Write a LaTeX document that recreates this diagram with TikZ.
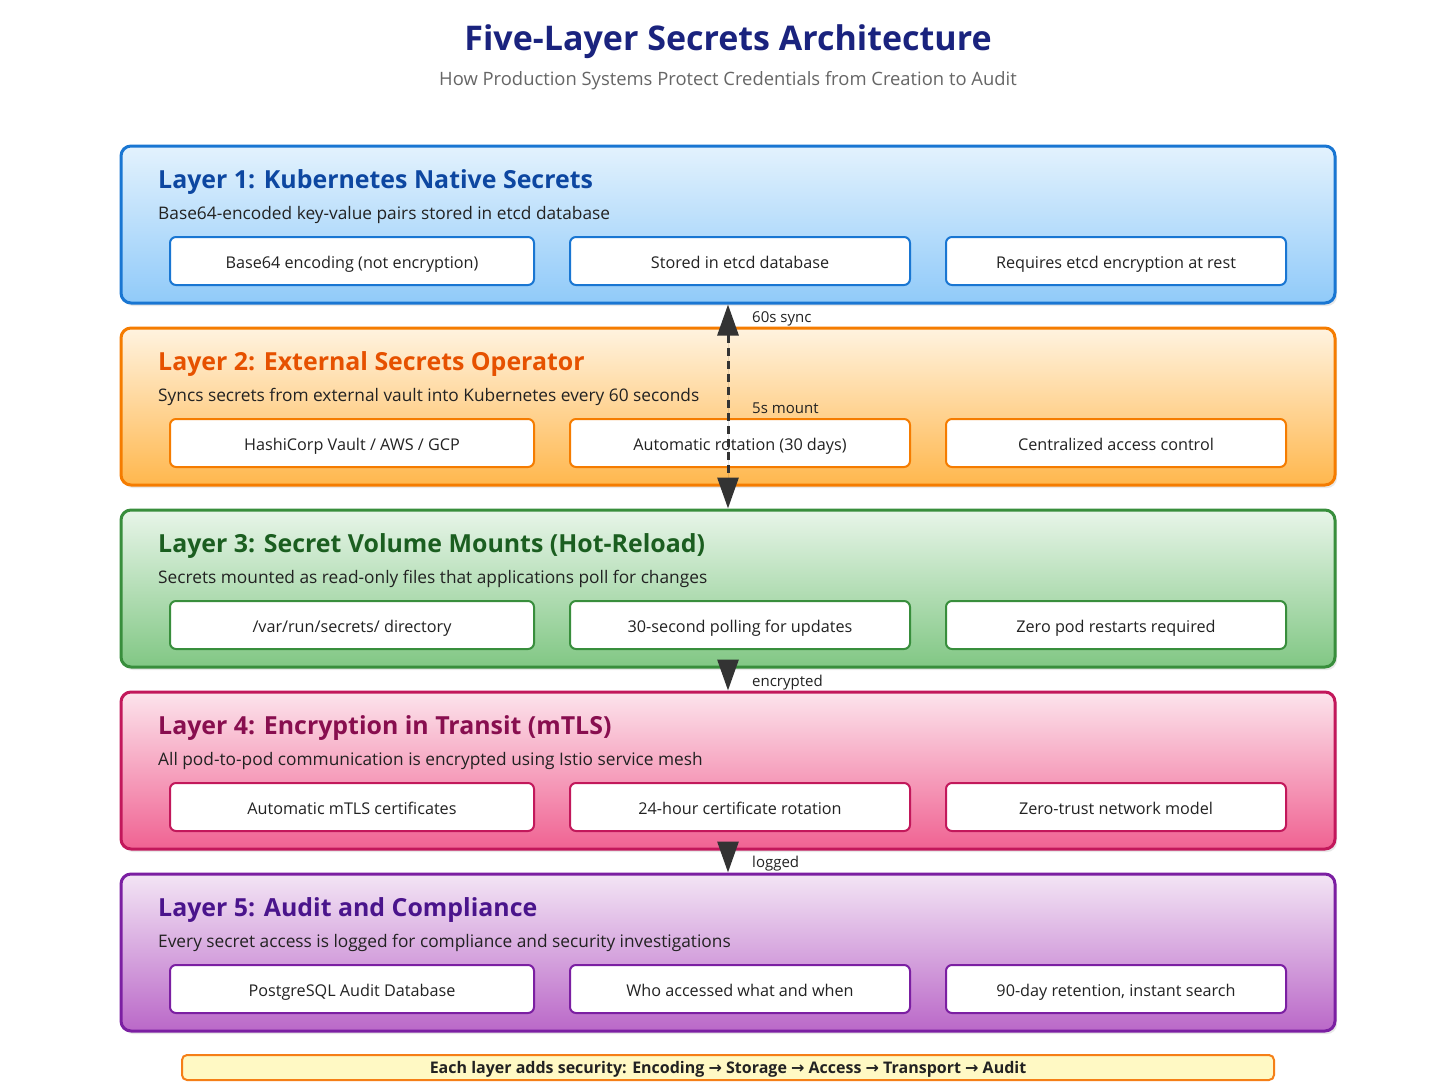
\documentclass[tikz,border=0pt]{standalone}
\usepackage{fontspec}
\setmainfont{Open Sans}
\newfontfamily\arrowfont{DejaVu Sans}
\usetikzlibrary{arrows.meta, shadows}

\definecolor{titleblue}{HTML}{1A237E}
\definecolor{subgray}{HTML}{666666}
\definecolor{textgray}{HTML}{222222}
\definecolor{arrowgray}{HTML}{333333}
% layer colours
\definecolor{blueA}{HTML}{E3F2FD}\definecolor{blueB}{HTML}{90CAF9}\definecolor{blueL}{HTML}{1976D2}\definecolor{blueT}{HTML}{0D47A1}
\definecolor{orangeA}{HTML}{FFF3E0}\definecolor{orangeB}{HTML}{FFB74D}\definecolor{orangeL}{HTML}{F57C00}\definecolor{orangeT}{HTML}{E65100}
\definecolor{greenA}{HTML}{E8F5E9}\definecolor{greenB}{HTML}{81C784}\definecolor{greenL}{HTML}{388E3C}\definecolor{greenT}{HTML}{1B5E20}
\definecolor{pinkA}{HTML}{FCE4EC}\definecolor{pinkB}{HTML}{F06292}\definecolor{pinkL}{HTML}{C2185B}\definecolor{pinkT}{HTML}{880E4F}
\definecolor{purpleA}{HTML}{F3E5F5}\definecolor{purpleB}{HTML}{BA68C8}\definecolor{purpleL}{HTML}{7B1FA2}\definecolor{purpleT}{HTML}{4A148C}
\definecolor{noteA}{HTML}{FFF9C4}\definecolor{noteL}{HTML}{F57F17}

\begin{document}
\begin{tikzpicture}[x=1pt, y=-1pt,
  layerbox/.style={rounded corners=10pt, line width=3pt, minimum width=1214pt, minimum height=157pt, drop shadow={opacity=0.18, shadow xshift=2pt, shadow yshift=-3pt}},
  itembox/.style={rounded corners=6pt, line width=2pt, fill=white, minimum height=48pt, text height=14pt, text depth=0pt, text=textgray, font=\fontsize{16.2}{19}\selectfont},
  layertitle/.style={anchor=base west, inner sep=0pt, font=\fontsize{24.9}{29}\selectfont\bfseries},
  layertext/.style={anchor=base west, inner sep=0pt, text=textgray, font=\fontsize{17.3}{20}\selectfont},
  flowarrow/.style={line width=3pt, draw=arrowgray, fill=arrowgray},
  flowlabel/.style={anchor=base west, inner sep=0pt, text=textgray, font=\fontsize{15}{18}\selectfont}]

\useasboundingbox[fill=white] (0,0) rectangle (1456,1092);

\node[anchor=base, inner sep=0pt, text=titleblue, font=\fontsize{34}{40}\selectfont\bfseries] (title) at (728, 50) {Five-Layer Secrets Architecture};
\node[anchor=base, inner sep=0pt, text=subgray, font=\fontsize{18.4}{22}\selectfont] (subtitle) at (728, 85) {How Production Systems Protect Credentials from Creation to Audit};

%layer 1
\node[layerbox, draw=blueL, top color=blueA, bottom color=blueB] (l1) at (728, 224.5) {};
\node[layertitle, text=blueT] (l1title) at (158, 188) {Layer 1: Kubernetes Native Secrets};
\node[layertext] (l1text) at (158, 219) {Base64-encoded key-value pairs stored in etcd database};
\node[itembox, draw=blueL, minimum width=364pt] (l1a) at (352, 261) {Base64 encoding (not encryption)};
\node[itembox, draw=blueL, minimum width=340pt] (l1b) at (740, 261) {Stored in etcd database};
\node[itembox, draw=blueL, minimum width=340pt] (l1c) at (1116, 261) {Requires etcd encryption at rest};

%layer 2
\node[layerbox, draw=orangeL, top color=orangeA, bottom color=orangeB] (l2) at (728, 406.5) {};
\node[layertitle, text=orangeT] (l2title) at (158, 370) {Layer 2: External Secrets Operator};
\node[layertext] (l2text) at (158, 401) {Syncs secrets from external vault into Kubernetes every 60 seconds};
\node[itembox, draw=orangeL, minimum width=364pt] (l2a) at (352, 443) {HashiCorp Vault / AWS / GCP};
\node[itembox, draw=orangeL, minimum width=340pt] (l2b) at (740, 443) {Automatic rotation (30 days)};
\node[itembox, draw=orangeL, minimum width=340pt] (l2c) at (1116, 443) {Centralized access control};

%layer 3
\node[layerbox, draw=greenL, top color=greenA, bottom color=greenB] (l3) at (728, 588.5) {};
\node[layertitle, text=greenT] (l3title) at (158, 552) {Layer 3: Secret Volume Mounts (Hot-Reload)};
\node[layertext] (l3text) at (158, 583) {Secrets mounted as read-only files that applications poll for changes};
\node[itembox, draw=greenL, minimum width=364pt] (l3a) at (352, 625) {/var/run/secrets/ directory};
\node[itembox, draw=greenL, minimum width=340pt] (l3b) at (740, 625) {30-second polling for updates};
\node[itembox, draw=greenL, minimum width=340pt] (l3c) at (1116, 625) {Zero pod restarts required};

%layer 4
\node[layerbox, draw=pinkL, top color=pinkA, bottom color=pinkB] (l4) at (728, 770.5) {};
\node[layertitle, text=pinkT] (l4title) at (158, 734) {Layer 4: Encryption in Transit (mTLS)};
\node[layertext] (l4text) at (158, 765) {All pod-to-pod communication is encrypted using Istio service mesh};
\node[itembox, draw=pinkL, minimum width=364pt] (l4a) at (352, 807) {Automatic mTLS certificates};
\node[itembox, draw=pinkL, minimum width=340pt] (l4b) at (740, 807) {24-hour certificate rotation};
\node[itembox, draw=pinkL, minimum width=340pt] (l4c) at (1116, 807) {Zero-trust network model};

%layer 5
\node[layerbox, draw=purpleL, top color=purpleA, bottom color=purpleB] (l5) at (728, 952.5) {};
\node[layertitle, text=purpleT] (l5title) at (158, 916) {Layer 5: Audit and Compliance};
\node[layertext] (l5text) at (158, 947) {Every secret access is logged for compliance and security investigations};
\node[itembox, draw=purpleL, minimum width=364pt] (l5a) at (352, 989) {PostgreSQL Audit Database};
\node[itembox, draw=purpleL, minimum width=340pt] (l5b) at (740, 989) {Who accessed what and when};
\node[itembox, draw=purpleL, minimum width=340pt] (l5c) at (1116, 989) {90-day retention, instant search};

%arrows between layers
\draw[flowarrow, dash pattern=on 8pt off 5pt, {Triangle[width=21pt,length=31pt]}-{Triangle[width=21pt,length=31pt]}] (l1.south) -- (l3.north);
\draw[flowarrow, -{Triangle[width=21pt,length=31pt]}] (l3.south) -- (l4.north);
\draw[flowarrow, -{Triangle[width=21pt,length=31pt]}] (l4.south) -- (l5.north);
\node[flowlabel] (sync) at (752, 322) {60s sync};
\node[flowlabel] (mount) at (752, 413) {5s mount};
\node[flowlabel] (enc) at (752, 686) {encrypted};
\node[flowlabel] (log) at (752, 867) {logged};

%summary
\node[draw=noteL, fill=noteA, line width=2pt, rounded corners=5pt, minimum width=1092pt, minimum height=25pt, text height=11pt, text depth=0pt, inner ysep=0pt, text=textgray, font=\fontsize{16}{18}\selectfont\bfseries] (summary) at (728, 1067.5)
  {Each layer adds security: Encoding {\arrowfont →} Storage {\arrowfont →} Access {\arrowfont →} Transport {\arrowfont →} Audit};

\end{tikzpicture}
\end{document}
